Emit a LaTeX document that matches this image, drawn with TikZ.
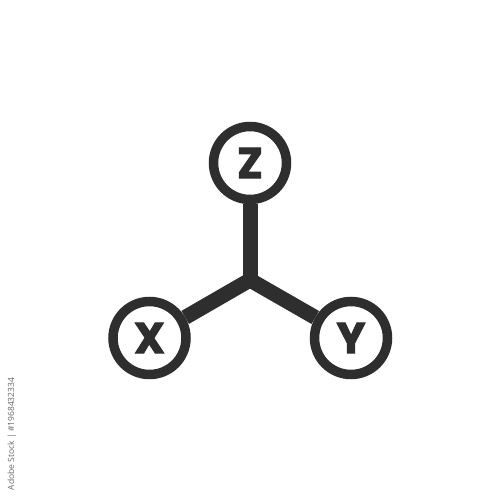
\documentclass[tikz,border=0pt]{standalone}
\usepackage{fontspec}
\newfontfamily\letterfont{Poppins}[UprightFont=* Bold,FakeBold=2.2]
\newfontfamily\wmfont{Open Sans}
\definecolor{ink}{HTML}{2E2E2E}
\definecolor{wm}{HTML}{6A6A6A}
\begin{document}
\begin{tikzpicture}[x=1pt,y=-1pt,
  ring/.style={circle,draw=ink,line width=9.5pt,minimum size=73pt,inner sep=0pt,
    font=\letterfont\fontsize{43}{43}\selectfont,text=ink},
  bond/.style={draw=ink,line width=15pt,line join=miter}]
\useasboundingbox[fill=white] (0,0) rectangle (500,500);
\node[ring] (z) at (250,163) {Z};
\node[ring] (x) at (149.5,338) {X};
\node[ring] (y) at (351,338) {Y};
\coordinate (j) at (250,280);
\path[bond] (z) -- (j);
\path[bond] (x) -- (j) -- (y);
\node[rotate=90,font=\wmfont\fontsize{8.5}{8.5}\selectfont,text=wm,inner sep=0pt] (mark) at (12,434) {Adobe Stock | \#1968432334};
\end{tikzpicture}
\end{document}
